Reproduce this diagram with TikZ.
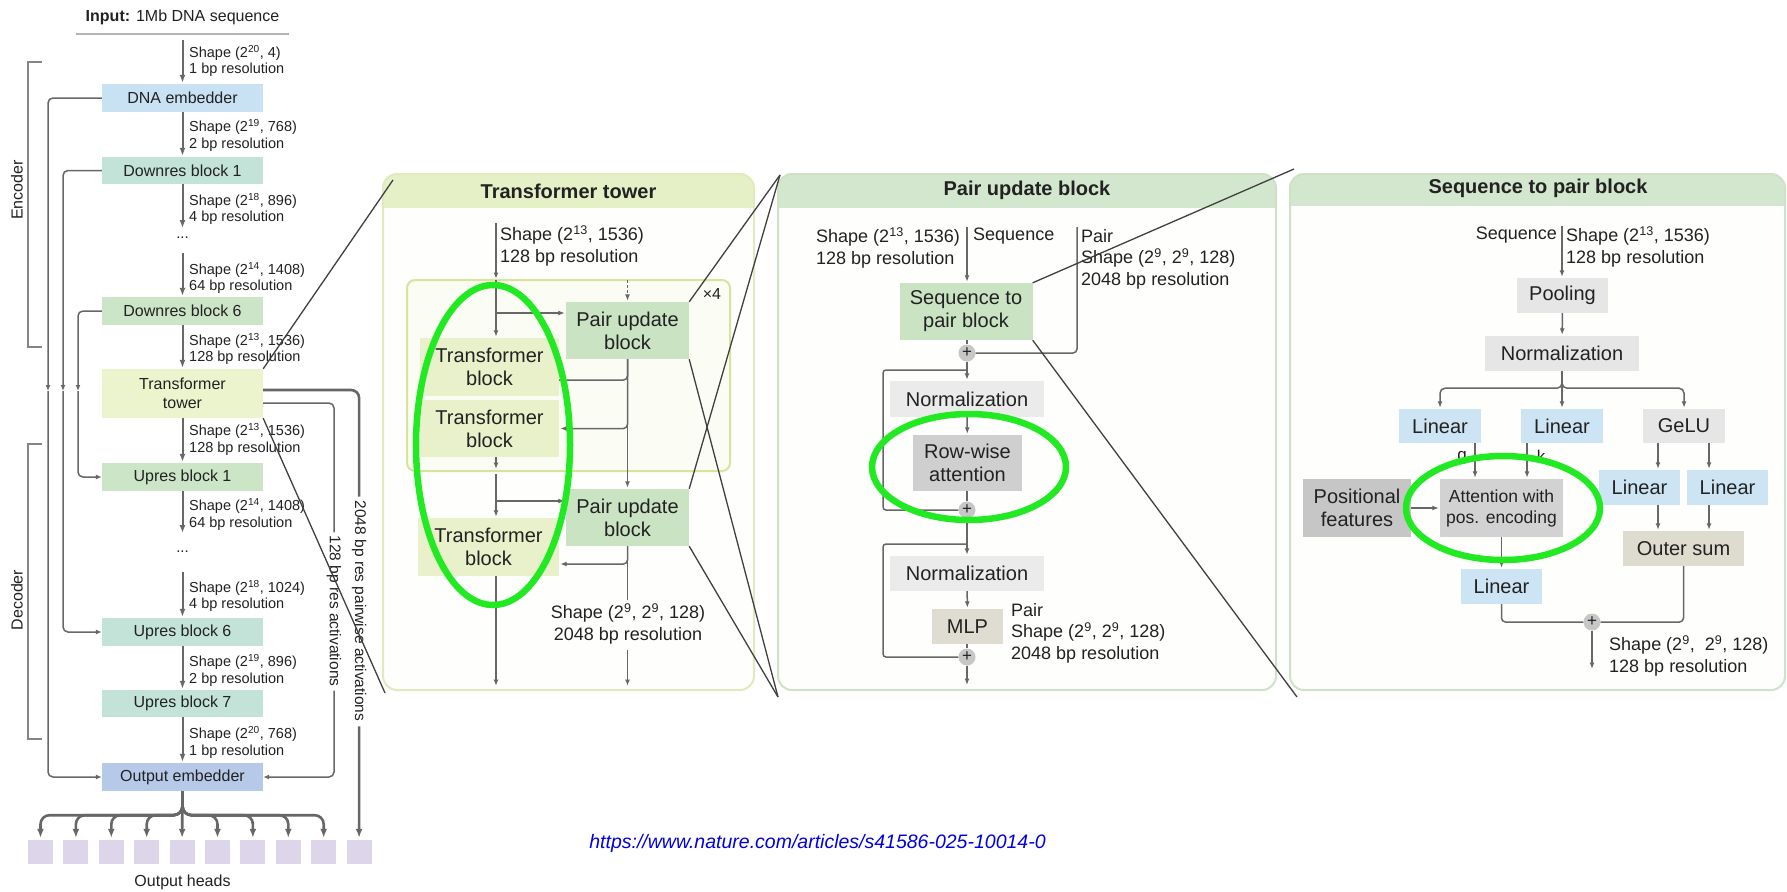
\documentclass[tikz,border=0pt]{standalone}
\usepackage{fontspec}
\setmainfont{Liberation Sans}
\usetikzlibrary{arrows.meta,calc}
\definecolor{cTxt}{HTML}{222222}
\definecolor{cLn}{HTML}{676767}
\definecolor{cDark}{HTML}{404040}
\definecolor{cUnd}{HTML}{B4B4B4}
\definecolor{cDNA}{HTML}{C9E2F3}
\definecolor{cTeal}{HTML}{C3E3D9}
\definecolor{cGrn}{HTML}{CBE5C6}
\definecolor{cTow}{HTML}{EBF4CC}
\definecolor{cOE}{HTML}{B7C9E9}
\definecolor{cHead}{HTML}{DDD5E9}
\definecolor{cTHdr}{HTML}{E6F0C7}
\definecolor{cTBrd}{HTML}{DFEABF}
\definecolor{cInBrd}{HTML}{D5E59C}
\definecolor{cInFill}{HTML}{FBFDF4}
\definecolor{cTB}{HTML}{E9F1CB}
\definecolor{cPUB}{HTML}{C9E3C3}
\definecolor{cPHdr}{HTML}{D3E7CE}
\definecolor{cPBrd}{HTML}{CDE2C6}
\definecolor{cNorm}{HTML}{EBEBEB}
\definecolor{cRow}{HTML}{CFCFCF}
\definecolor{cMLP}{HTML}{DFDCD1}
\definecolor{cPlus}{HTML}{C7C7C7}
\definecolor{cLin}{HTML}{CDE4F4}
\definecolor{cGray}{HTML}{E6E6E6}
\definecolor{cAtt}{HTML}{D2D2D2}
\definecolor{cPos}{HTML}{C6C6C6}
\definecolor{cOuter}{HTML}{DEDCCE}
\definecolor{cEll}{HTML}{22EA22}
\definecolor{cURL}{HTML}{0000E6}
\definecolor{cBody}{HTML}{FEFEFD}
\tikzset{
  lbl/.style={font=\fontsize{14.5}{16.5}\selectfont, align=left, inner sep=0pt, text=cTxt, anchor=west},
  plbl/.style={font=\fontsize{18}{21.5}\selectfont, align=left, inner sep=0pt, text=cTxt},
  blk/.style={rectangle, inner sep=0pt, text=cTxt, font=\fontsize{16}{19}\selectfont, align=center},
  pblk/.style={rectangle, inner sep=0pt, text=cTxt, font=\fontsize{20}{23}\selectfont, align=center},
  ttl/.style={inner sep=0pt, text=cTxt, font=\bfseries\fontsize{20}{24}\selectfont},
  arrL/.style={draw=cLn, line width=2pt, -{Latex[length=8pt,width=6pt]}, shorten >=1pt},
  arr/.style={draw=cLn, line width=1.5pt, -{Latex[length=6.5pt,width=5pt]}, shorten >=1pt},
  ln/.style={draw=cLn, line width=1.5pt},
  skipA/.style={draw=cLn, line width=1.5pt, -{Latex[length=6pt,width=5pt]}},
  fan/.style={draw=cLn, line width=2.6pt},
  fanA/.style={draw=cLn, line width=2.6pt, -{Latex[length=9pt,width=7pt]}, shorten >=2pt},
  brk/.style={draw=cLn!80, line width=1.3pt},
  head/.style={rectangle, fill=cHead, minimum width=25pt, minimum height=24pt, inner sep=0pt},
  rottxt/.style={font=\fontsize{15.5}{17}\selectfont, inner sep=0pt, text=cTxt, rotate=-90},
  plus/.style={circle, fill=cPlus, minimum size=17pt, inner sep=0pt, text=cTxt, font=\fontsize{17}{17}\selectfont},
  zl/.style={draw=cDark, line width=1.3pt},
  ell/.style={draw=cEll, line width=6.5pt},
}
\begin{document}
\begin{tikzpicture}[x=1pt,y=-1pt]
\useasboundingbox (0,0) rectangle (1787,891);
\fill[white] (0,0) rectangle (1787,891);

% ================= LEFT COLUMN =================
\node[inner sep=0pt, text=cTxt, font=\fontsize{16}{19}\selectfont] (inp) at (182.5,17) {\textbf{Input:} 1Mb DNA sequence};
\draw[cUnd, line width=1.5pt] (76,34) -- (289,34);

\node[blk, fill=cDNA, minimum width=161pt, minimum height=28pt] (dna) at (182.5,98) {DNA embedder};
\node[blk, fill=cTeal, minimum width=161pt, minimum height=27pt] (d1) at (182.5,170.5) {Downres block 1};
\node[lbl, anchor=center, font=\fontsize{15}{16}\selectfont] (dots1) at (182.5,238) {...};
\node[blk, fill=cGrn, minimum width=161pt, minimum height=28pt] (d6) at (182.5,311) {Downres block 6};
\node[blk, fill=cTow, minimum width=161pt, minimum height=49pt] (tower) at (182.5,393.5) {Transformer\\tower};
\node[blk, fill=cGrn, minimum width=161pt, minimum height=28pt] (u1) at (182.5,477) {Upres block 1};
\node[lbl, anchor=center, font=\fontsize{15}{16}\selectfont] (dots2) at (182.5,552) {...};
\node[blk, fill=cTeal, minimum width=161pt, minimum height=28pt] (u6) at (182.5,632) {Upres block 6};
\node[blk, fill=cTeal, minimum width=161pt, minimum height=27pt] (u7) at (182.5,703.5) {Upres block 7};
\node[blk, fill=cOE, minimum width=161pt, minimum height=28pt] (oe) at (182.5,777) {Output embedder};

\coordinate (inArr) at (182.5,40);
\draw[arrL] (inArr) -- (dna);
\draw[arrL] (dna) -- (d1);
\draw[arrL] (d1) -- ([yshift=8pt]dots1.north);
\draw[arrL] ([yshift=-14pt]dots1.south) -- (d6);
\draw[arrL] (d6) -- (tower);
\draw[arrL] (tower) -- (u1);
\draw[arrL] (u1) -- ([yshift=17pt]dots2.north);
\draw[arrL] ([yshift=-19pt]dots2.south) -- (u6);
\draw[arrL] (u6) -- (u7);
\draw[arrL] (u7) -- (oe);

\node[lbl] (l1) at (189,61) {Shape (2\textsuperscript{20}, 4)\\1 bp resolution};
\node[lbl] (l2) at (189,135.5) {Shape (2\textsuperscript{19}, 768)\\2 bp resolution};
\node[lbl] (l3) at (189,209) {Shape (2\textsuperscript{18}, 896)\\4 bp resolution};
\node[lbl] (l4) at (189,278) {Shape (2\textsuperscript{14}, 1408)\\64 bp resolution};
\node[lbl] (l5) at (189,349) {Shape (2\textsuperscript{13}, 1536)\\128 bp resolution};
\node[lbl] (l6) at (189,439.5) {Shape (2\textsuperscript{13}, 1536)\\128 bp resolution};
\node[lbl] (l7) at (189,514.5) {Shape (2\textsuperscript{14}, 1408)\\64 bp resolution};
\node[lbl] (l8) at (189,596) {Shape (2\textsuperscript{18}, 1024)\\4 bp resolution};
\node[lbl] (l9) at (189,670.5) {Shape (2\textsuperscript{19}, 896)\\2 bp resolution};
\node[lbl] (l10) at (189,742.5) {Shape (2\textsuperscript{20}, 768)\\1 bp resolution};

% skip connections
\coordinate (m1) at (48,391);
\coordinate (m2) at (63,391);
\coordinate (m3) at (78,391);
\draw[skipA, rounded corners=5pt] (dna.west) -| (m1);
\draw[skipA, rounded corners=5pt] (m1) |- (oe.west);
\draw[skipA, rounded corners=5pt] (d1.west) -| (m2);
\draw[skipA, rounded corners=5pt] (m2) |- (u6.west);
\draw[skipA, rounded corners=5pt] (d6.west) -| (m3);
\draw[skipA, rounded corners=5pt] (m3) |- (u1.west);

% brackets
\draw[brk] (42,62) -- (28,62) -- (28,347) -- (42,347);
\draw[brk] (42,444) -- (28,444) -- (28,739) -- (42,739);
\node[rotate=90, inner sep=0pt, text=cTxt, font=\fontsize{16}{19}\selectfont] (enc) at (17,190) {Encoder};
\node[rotate=90, inner sep=0pt, text=cTxt, font=\fontsize{16}{19}\selectfont] (dec) at (17,600) {Decoder};

% output heads
\foreach \i in {1,...,10} {
  \node[head] (h\i) at ({40.5+(\i-1)*35.4},852) {};
}
\foreach \i in {1,2,3,4,6,7,8,9} {
  \draw[fanA, rounded corners=9pt] (oe.south) -- ++(0,24) -| (h\i.north);
}
\draw[fanA] (oe.south) -- (h5.north);
\node[inner sep=0pt, text=cTxt, font=\fontsize{16}{19}\selectfont] (ohl) at (182.5,882) {Output heads};

% tower side outputs
\node[rottxt] (t2txt) at (359.1,611) {2048 bp res pairwise activations};
\node[rottxt] (t1txt) at (334,611) {128 bp res activations};
\draw[fan, rounded corners=8pt] ([yshift=3.5pt]tower.east) -| ([yshift=4pt]t2txt.west);
\draw[fanA] ([yshift=-5pt]t2txt.east) -- (h10.north);
\draw[ln, rounded corners=5pt] ([yshift=-9.5pt]tower.east) -| ([yshift=3pt]t1txt.west);
\draw[skipA, rounded corners=5pt] ([yshift=-4pt]t1txt.east) |- (oe.east);

% ================= TRANSFORMER TOWER PANEL =================
\begin{scope}
\clip[rounded corners=14pt] (383,174) rectangle (754,690);
\fill[cBody] (383,174) rectangle (754,690);
\fill[cTHdr] (383,174) rectangle (754,208);
\end{scope}
\draw[cTBrd, line width=2pt, rounded corners=14pt] (383,174) rectangle (754,690);
\node[ttl] (ttlT) at (568.5,191) {Transformer tower};

\draw[cInBrd, line width=2pt, fill=cInFill, rounded corners=8pt] (407,280) rectangle (730,471);
\node[plbl] (x4) at (712,294) {\fontsize{16}{18}\selectfont ×4};

\node[pblk, fill=cTB, minimum width=139pt, minimum height=58pt] (tb1) at (489.5,367) {Transformer\\block};
\node[pblk, fill=cTB, minimum width=139pt, minimum height=57pt] (tb2) at (489.5,428.5) {Transformer\\block};
\node[pblk, fill=cTB, minimum width=141pt, minimum height=58pt] (tb3) at (488.5,547) {Transformer\\block};
\node[pblk, fill=cPUB, minimum width=123pt, minimum height=57pt] (pub1) at (627.5,330.5) {Pair update\\block};
\node[pblk, fill=cPUB, minimum width=123pt, minimum height=57pt] (pub2) at (627.5,517.5) {Pair update\\block};

\coordinate (tIn) at (496,223);
\coordinate (ibTop) at (496,280);
\coordinate (ibBot) at (496,471);
\coordinate (br1) at (496,313);
\coordinate (br2) at (496,501);
\coordinate (dsh) at (627.5,280);
\coordinate (tOut1) at (496,687);
\coordinate (tOut2) at (627.5,687);
\coordinate (tS2) at (627.5,650);

\node[plbl, anchor=west] (tl1) at (500,246) {Shape (2\textsuperscript{13}, 1536)\\128 bp resolution};
\draw[arr] (tIn) -- (ibTop);
\draw[arr] (ibTop) -- (ibTop |- tb1.north);
\draw[arr] (br1) -- (br1 -| pub1.west);
\draw[arr, dash pattern=on 3pt off 2pt] (dsh) -- (pub1.north);
\draw[arr] (pub1) -- (pub2);
\draw[ln, rounded corners=4pt] (pub1.south) |- ([yshift=-13pt]tb1.east);
\draw[arr, rounded corners=4pt] (pub1.south) |- (tb2.east);
\draw[arr, shorten >=2pt] (ibBot |- tb2.south) -- (ibBot);
\draw[arr] ([yshift=-3pt]ibBot) -- (ibBot |- tb3.north);
\draw[arr] (br2) -- (br2 -| pub2.west);
\draw[ln] (pub2.south) -- ++(0,54);
\draw[arr, rounded corners=4pt] (pub2.south) |- ([yshift=-17pt]tb3.east);
\draw[arr] (tOut1 |- tb3.south) -- (tOut1);
\node[plbl, align=center] (tl2) at (628,624) {Shape (2\textsuperscript{9}, 2\textsuperscript{9}, 128)\\2048 bp resolution};
\draw[arr] (tS2) -- (tOut2);

% ================= PAIR UPDATE PANEL =================
\begin{scope}
\clip[rounded corners=14pt] (778,174) rectangle (1276,690);
\fill[cBody] (778,174) rectangle (1276,690);
\fill[cPHdr] (778,174) rectangle (1276,208);
\end{scope}
\draw[cPBrd, line width=2pt, rounded corners=14pt] (778,174) rectangle (1276,690);
\node[ttl] (ttlP) at (1027,190) {Pair update block};

\node[pblk, fill=cPUB, minimum width=133pt, minimum height=57pt] (s2p) at (966,311.5) {Sequence to\\pair block};
\node[plus] (plus1) at (967,353) {+};
\node[pblk, fill=cNorm, minimum width=154pt, minimum height=36pt] (norm1) at (967,399) {Normalization};
\node[pblk, fill=cRow, minimum width=109pt, minimum height=56pt] (row) at (967.5,463) {Row-wise\\attention};
\node[plus] (plus2) at (967,510) {+};
\node[pblk, fill=cNorm, minimum width=154pt, minimum height=35pt] (norm2) at (967,573.5) {Normalization};
\node[pblk, fill=cMLP, minimum width=71pt, minimum height=35pt] (mlp) at (967.5,626.5) {MLP};
\node[plus] (plus3) at (967,657) {+};

\coordinate (pSeq) at (967,227);
\coordinate (pPair) at (1077,227);
\coordinate (pOut) at (967,686);

\node[plbl, anchor=west] (pl1) at (816,248) {Shape (2\textsuperscript{13}, 1536)\\128 bp resolution};
\node[plbl, anchor=west] (pl2) at (973,236) {Sequence};
\node[plbl, anchor=west] (pl3) at (1081,259) {Pair\\Shape (2\textsuperscript{9}, 2\textsuperscript{9}, 128)\\2048 bp resolution};
\node[plbl, anchor=west] (pl4) at (1011,633) {Pair\\Shape (2\textsuperscript{9}, 2\textsuperscript{9}, 128)\\2048 bp resolution};

\draw[arr] (pSeq) -- (pSeq |- s2p.north);
\draw[ln, rounded corners=4pt] (pPair) |- (plus1.east);
\draw[ln] (s2p.south -| plus1) -- (plus1);
\draw[arr] (plus1) -- (norm1);
\draw[ln, rounded corners=3pt] ([yshift=-17pt]plus1.center) -| ([xshift=-84pt]plus2.center) -- (plus2.west);
\draw[arr] (norm1) -- (row);
\draw[ln] (row.south -| plus2) -- (plus2);
\draw[arr] (plus2) -- (norm2);
\draw[ln, rounded corners=3pt] ([yshift=-34pt]plus2.center) -| ([xshift=-84pt]plus3.center) -- (plus3.west);
\draw[arr] (norm2) -- (mlp);
\draw[ln] (mlp.south -| plus3) -- (plus3);
\draw[arr] (plus3) -- (pOut);

% ================= SEQUENCE TO PAIR PANEL =================
\begin{scope}
\clip[rounded corners=14pt] (1290,174) rectangle (1785,690);
\fill[cBody] (1290,174) rectangle (1785,690);
\fill[cPHdr] (1290,174) rectangle (1785,206);
\end{scope}
\draw[cPBrd, line width=2pt, rounded corners=14pt] (1290,174) rectangle (1785,690);
\node[ttl] (ttlS) at (1538,188) {Sequence to pair block};

\node[pblk, fill=cGray, minimum width=91pt, minimum height=35pt] (pool) at (1562.5,295.5) {Pooling};
\node[pblk, fill=cGray, minimum width=154pt, minimum height=35pt] (snorm) at (1562,353.5) {Normalization};
\node[pblk, fill=cLin, minimum width=82pt, minimum height=34pt] (lin1) at (1440,426) {Linear};
\node[pblk, fill=cLin, minimum width=82pt, minimum height=34pt] (lin2) at (1562,426) {Linear};
\node[pblk, fill=cGray, minimum width=82pt, minimum height=34pt] (gelu) at (1684,426) {GeLU};
\node[pblk, fill=cAtt, minimum width=123pt, minimum height=58pt, font=\fontsize{17.5}{21}\selectfont] (att) at (1501.5,508) {Attention with\\pos. encoding};
\node[pblk, fill=cPos, minimum width=108pt, minimum height=58pt] (posf) at (1357,508) {Positional\\features};
\node[pblk, fill=cLin, minimum width=81pt, minimum height=35pt] (lin3) at (1639.5,487.5) {Linear};
\node[pblk, fill=cLin, minimum width=81pt, minimum height=35pt] (lin4) at (1727.5,487.5) {Linear};
\node[pblk, fill=cOuter, minimum width=121pt, minimum height=35pt] (outer) at (1683.5,548.5) {Outer sum};
\node[pblk, fill=cLin, minimum width=81pt, minimum height=35pt] (lin5) at (1501.5,586.5) {Linear};
\node[plus] (splus) at (1592,622) {+};

\coordinate (sSeq) at (1562,226);
\coordinate (sOut) at (1592,670);

\node[plbl, anchor=east] (sl1) at (1557,235) {Sequence};
\node[plbl, anchor=west] (sl2) at (1566,247) {Shape (2\textsuperscript{13}, 1536)\\128 bp resolution};
\node[plbl, anchor=west] (sl3) at (1609,656) {Shape (2\textsuperscript{9}, \ 2\textsuperscript{9}, 128)\\128 bp resolution};
\node[plbl, font=\fontsize{17}{20}\selectfont] (qlab) at (1462,458) {q};
\node[plbl, font=\fontsize{17}{20}\selectfont] (klab) at (1541,456) {k};

\draw[arr] (sSeq) -- (sSeq |- pool.north);
\draw[arr] (pool) -- (snorm);
\draw[arr, rounded corners=5pt] (snorm.south) -- ++(0,17) -| (lin1.north);
\draw[arr, rounded corners=5pt] (snorm.south) -- ++(0,17) -| (gelu.north);
\draw[arr] (snorm.south -| lin2) -- (lin2.north);
\draw[arr] ([xshift=35pt]lin1.south) -- ([xshift=35pt]lin1.south |- att.north);
\draw[arr] ([xshift=-35pt]lin2.south) -- ([xshift=-35pt]lin2.south |- att.north);
\draw[arr] (posf) -- (att);
\draw[arr] ([xshift=-26pt]gelu.south) -- ([xshift=-26pt]gelu.south |- lin3.north);
\draw[arr] ([xshift=25pt]gelu.south) -- ([xshift=25pt]gelu.south |- lin4.north);
\draw[arr] ([xshift=18.5pt]lin3.south) -- ([xshift=18.5pt]lin3.south |- outer.north);
\draw[arr] ([xshift=-18.5pt]lin4.south) -- ([xshift=-18.5pt]lin4.south |- outer.north);
\draw[arr] (att) -- (lin5);
\draw[ln, rounded corners=4pt] (lin5.south) |- (splus.west);
\draw[ln, rounded corners=4pt] (outer.south) |- (splus.east);
\draw[arr] (splus) -- (sOut);

% ================= ZOOM LINES =================
\coordinate (zA) at (393,180);
\coordinate (zB) at (385,693);
\coordinate (zC) at (780,175);
\coordinate (zD) at (778,697);
\coordinate (zE) at (1294,169);
\coordinate (zF) at (1297,697);
\draw[zl] (tower.north east) -- (zA);
\draw[zl] (tower.south east) -- (zB);
\draw[zl] (pub1.north east) -- (zC);
\draw[zl] (pub2.north east) -- (zC);
\draw[zl] (pub1.south east) -- (zD);
\draw[zl] (pub2.south east) -- (zD);
\draw[zl] (s2p.north east) -- (zE);
\draw[zl] (s2p.south east) -- (zF);

% ================= HIGHLIGHT ELLIPSES =================
\draw[ell] (493,445) ellipse [x radius=77pt, y radius=160pt];
\draw[ell] (969,467) ellipse [x radius=97pt, y radius=53pt];
\draw[ell] (1503,508) ellipse [x radius=97pt, y radius=52pt];

% URL
\node[inner sep=0pt, text=cURL, font=\itshape\fontsize{19.5}{22}\selectfont] (url) at (817.5,843) {https://www.nature.com/articles/s41586-025-10014-0};
\end{tikzpicture}
\end{document}
